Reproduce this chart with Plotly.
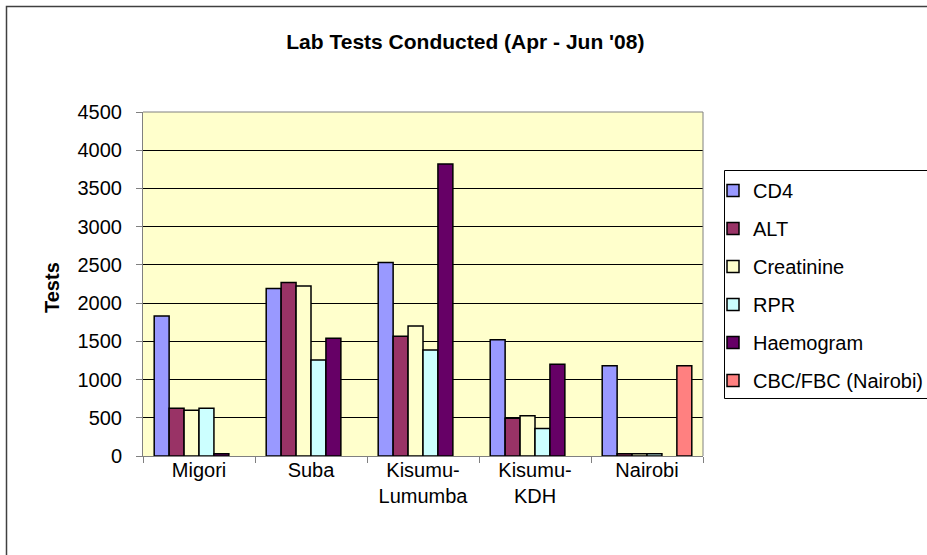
import plotly.graph_objects as go

categories = ["Migori", "Suba", "Kisumu-<br>Lumumba", "Kisumu-<br>KDH", "Nairobi"]
cd4 = [1830, 2190, 2530, 1520, 1180]
alt = [625, 2270, 1565, 495, 30]
creatinine = [600, 2225, 1700, 525, 30]
rpr = [625, 1255, 1385, 360, 30]
haemogram = [30, 1540, 3820, 1200, None]
cbc_fbc = [None, None, None, None, 1180]
y_ticks = [0, 500, 1000, 1500, 2000, 2500, 3000, 3500, 4000, 4500]

series = [
    ("CD4", cd4, "#9999FF"),
    ("ALT", alt, "#993366"),
    ("Creatinine", creatinine, "#FFFFCC"),
    ("RPR", rpr, "#CCFFFF"),
    ("Haemogram", haemogram, "#660066"),
    ("CBC/FBC (Nairobi)", cbc_fbc, "#FF8080"),
]

FONT = "Arial, Liberation Sans, sans-serif"
W, H = 927, 555
L, R, T, B = 143, 224, 112, 99
pw, ph = W - L - R, H - T - B

def px_x(p):
    return (p - L) / pw

def px_y(p):
    return (H - B - p) / ph

fig = go.Figure()
for i, (name, vals, col) in enumerate(series):
    fig.add_trace(go.Bar(
        x=categories, y=vals, name=name, legendgroup=f"g{i}",
        marker=dict(color=col, line=dict(color="black", width=1.5)),
    ))

fig.update_layout(
    width=W, height=H,
    margin=dict(l=L, r=R, t=T, b=B, autoexpand=False),
    paper_bgcolor="white",
    plot_bgcolor="#FFFFCC",
    barmode="group", bargap=0.2, bargroupgap=0,
    font=dict(family=FONT, size=20, color="black"),
    title=dict(text="<b>Lab Tests Conducted (Apr - Jun '08)</b>", x=0.502, xanchor="center",
               y=1 - 42 / H, yanchor="middle", font=dict(size=21, family=FONT, color="black")),
    showlegend=True,
    legend=dict(x=px_x(713), xanchor="left", y=px_y(171), yanchor="top",
                font=dict(size=20, family=FONT), tracegroupgap=9,
                bgcolor="rgba(0,0,0,0)", borderwidth=0),
    xaxis=dict(showgrid=False, showline=True, linecolor="#808080", linewidth=1,
               ticks="outside", tickson="boundaries", ticklen=6, tickcolor="#808080",
               ticklabelstandoff=-4,
               tickfont=dict(size=20, family=FONT), mirror=False, fixedrange=True),
    yaxis=dict(range=[0, 4500], tickvals=y_ticks, showgrid=True, gridcolor="black", gridwidth=1,
               showline=True, linecolor="#808080", linewidth=1, ticks="outside", ticklen=6,
               tickcolor="#808080", ticklabelstandoff=10, tickfont=dict(size=20, family=FONT),
               zeroline=False, fixedrange=True),
    shapes=[
        dict(type="line", xref="paper", yref="paper", x0=0, x1=1, y0=1, y1=1,
             line=dict(color="#808080", width=1)),
        dict(type="line", xref="paper", yref="paper", x0=1, x1=1, y0=0, y1=1,
             line=dict(color="#808080", width=1)),
        dict(type="rect", xref="paper", yref="paper", x0=px_x(724.5), x1=px_x(960),
             y0=px_y(398.5), y1=px_y(170.5), line=dict(color="black", width=1)),
        dict(type="rect", xref="paper", yref="paper", x0=px_x(6.5), x1=px_x(1000),
             y0=px_y(600), y1=px_y(6.5), line=dict(color="#404040", width=1.5)),
    ],
    annotations=[
        dict(text="<b>Tests</b>", xref="paper", yref="paper", x=px_x(52), y=px_y(288),
             textangle=-90, showarrow=False, font=dict(size=20, family=FONT, color="black"),
             xanchor="center", yanchor="middle"),
    ],
)

fig.write_html("out.html", config={"displayModeBar": False, "staticPlot": True},
               post_script="document.body.style.margin='0';document.body.style.overflow='hidden';")
